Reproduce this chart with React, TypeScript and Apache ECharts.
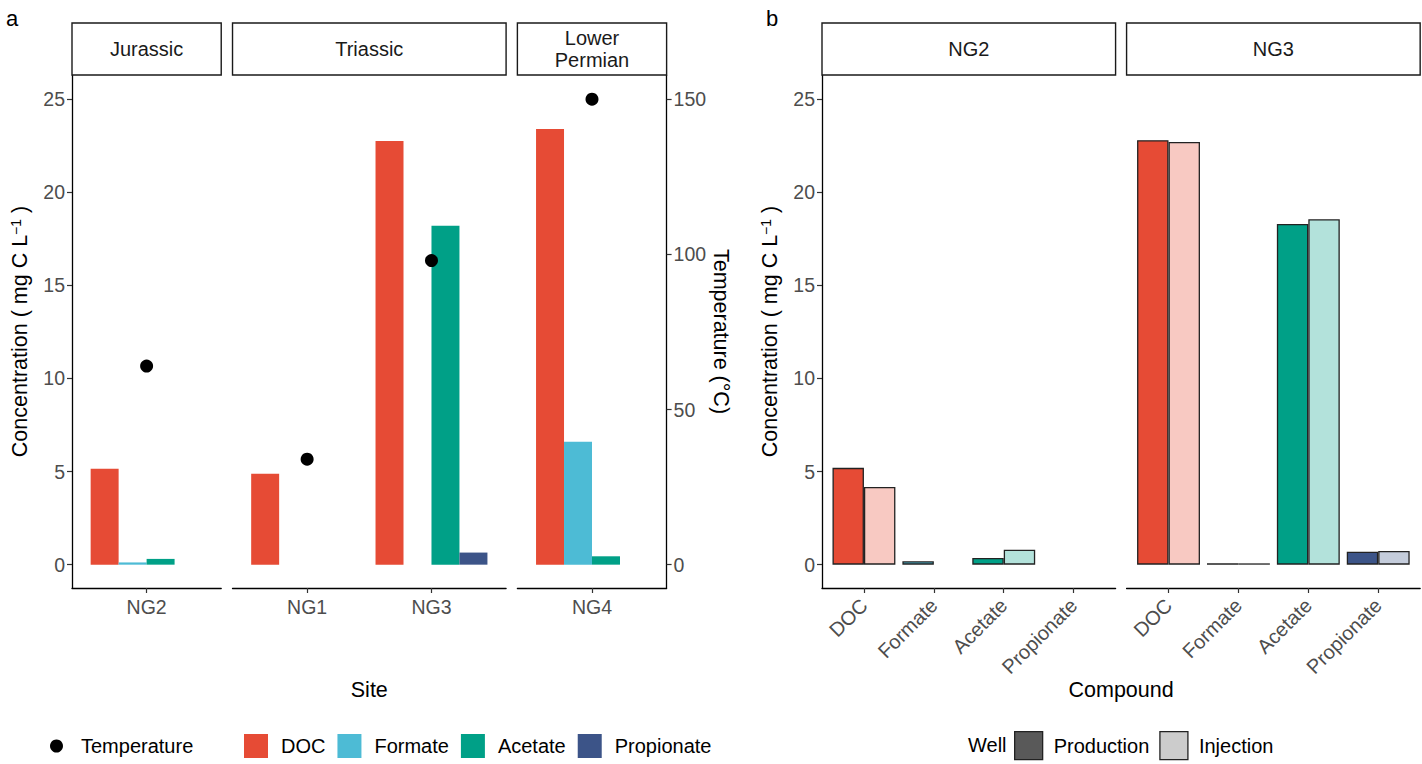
import React, { useEffect, useRef } from "react";
import * as echarts from "echarts";

// ---------------- data ----------------
const periods = ["Jurassic", "Triassic", "Lower\nPermian"];
const periodSites = [["NG2"], ["NG1", "NG3"], ["NG4"]];
const compounds = ["DOC", "Formate", "Acetate", "Propionate"];
const compoundColors = ["#E64B35", "#4DBBD5", "#00A087", "#3C5488"];
const injectionColors = ["#F8C9C2", "#CAEBF2", "#B3E2DB", "#C4CCDB"];

const sites = ["NG2", "NG1", "NG3", "NG4"];
const docBySite = [5.15, 4.88, 22.75, 23.4];
const formateBySite = [0.12, null, null, 6.6];
const acetateBySite = [0.31, null, 18.2, 0.45];
const propionateBySite = [null, null, 0.65, null];
const temperatureBySite = [64, 34, 98, 150];

const wells = ["NG2", "NG3"];
const productionNG2 = [5.2, 0.18, 0.36, null];
const injectionNG2 = [4.17, null, 0.8, null];
const productionNG3 = [22.8, 0.07, 18.3, 0.69];
const injectionNG3 = [22.7, 0.07, 18.55, 0.74];

const concTicks = [0, 5, 10, 15, 20, 25];
const tempTicks = [0, 50, 100, 150];

// ---------------- layout ----------------
const FONT = "'Liberation Sans', Arial, Helvetica, sans-serif";
const TOP = 75;
const H = 513;
const Y_MIN = -1.253;
const Y_MAX = 26.3;
const T_FACTOR = 6;
const STRIP_TOP = 23;
const TICK_FS = 19.5;
const TEXT_FS = 20;
const TITLE_FS = 21.5;

function facetLayout(start: number, unit: number, gap: number, counts: number[]) {
  let x = start;
  return counts.map((n) => {
    const w = (n + 0.2) * unit;
    const f = { x, w, dataX: x + 0.1 * unit, dataW: n * unit };
    x += w + gap;
    return f;
  });
}

function buildOption() {
  const grids: any[] = [];
  const xAxes: any[] = [];
  const yAxes: any[] = [];
  const series: any[] = [];
  const graphics: any[] = [];

  const tickLabel = { color: "#4D4D4D", fontSize: TICK_FS, fontFamily: FONT };
  const tickLine = { color: "#333", width: 1.2 };
  const axisLine = { show: true, onZero: false, lineStyle: { color: "#000", width: 1.3 } };

  const concAxisName = "{t|Concentration ( mg C L}{s|−1}{t| )}";
  const nameStyle = {
    fontSize: TITLE_FS,
    color: "#000",
    fontFamily: FONT,
    rich: {
      t: { fontSize: TITLE_FS, color: "#000", fontFamily: FONT },
      s: { fontSize: 14, color: "#000", fontFamily: FONT, verticalAlign: "top" },
    },
  };

  const addStrip = (f: any, label: string) => {
    graphics.push({
      type: "rect",
      shape: { x: f.x, y: STRIP_TOP, width: f.w, height: TOP - STRIP_TOP },
      style: { fill: "#fff", stroke: "#1a1a1a", lineWidth: 1.4 },
      z: 10,
    });
    graphics.push({
      type: "text",
      x: f.x + f.w / 2,
      y: (STRIP_TOP + TOP) / 2,
      style: {
        text: label,
        fontSize: TEXT_FS,
        fontFamily: FONT,
        fill: "#1a1a1a",
        align: "center",
        verticalAlign: "middle",
        lineHeight: 22,
      },
      z: 11,
    });
  };

  const addFrame = (f: any, yAxis: any) => {
    const gi = grids.length;
    grids.push({ left: f.x, top: TOP, width: f.w, height: H });
    xAxes.push({
      gridIndex: gi,
      type: "value",
      min: 0,
      max: 1,
      axisLine,
      axisTick: { show: false },
      axisLabel: { show: false },
      splitLine: { show: false },
    });
    yAxes.push({ gridIndex: gi, ...yAxis });
  };

  const hiddenY = (gi: number, min: number, max: number) => ({
    gridIndex: gi,
    type: "value",
    min,
    max,
    show: false,
    splitLine: { show: false },
  });

  const concFrameAxis = {
    type: "value",
    min: Y_MIN,
    max: Y_MAX,
    position: "left",
    axisLine,
    axisTick: { show: true, length: 5, lineStyle: tickLine, customValues: concTicks },
    axisLabel: { ...tickLabel, margin: 7, customValues: concTicks },
    splitLine: { show: false },
    name: concAxisName,
    nameLocation: "middle",
    nameGap: 41,
    nameTextStyle: nameStyle,
  };

  // ---------- panel a ----------
  const fa = facetLayout(72, 124.35, 11.3, periodSites.map((s) => s.length));
  const valuesBySite = [docBySite, formateBySite, acetateBySite, propionateBySite];
  fa.forEach((f, i) => {
    addStrip(f, periods[i]);
    let frameY: any = { type: "value", min: Y_MIN, max: Y_MAX, show: false, splitLine: { show: false } };
    if (i === 0) {
      frameY = concFrameAxis;
    } else if (i === fa.length - 1) {
      frameY = {
        type: "value",
        min: Y_MIN * T_FACTOR,
        max: Y_MAX * T_FACTOR,
        position: "right",
        axisLine,
        axisTick: { show: true, length: 5, lineStyle: tickLine, customValues: tempTicks },
        axisLabel: { ...tickLabel, margin: 7, customValues: tempTicks },
        splitLine: { show: false },
        name: "Temperature (°C)",
        nameLocation: "middle",
        nameRotate: -90,
        nameGap: 35,
        nameTextStyle: { fontSize: TITLE_FS, color: "#000", fontFamily: FONT },
      };
    }
    addFrame(f, frameY);

    const gi = grids.length;
    grids.push({ left: f.dataX, top: TOP, width: f.dataW, height: H });
    const xi = xAxes.length;
    xAxes.push({
      gridIndex: gi,
      type: "category",
      data: periodSites[i],
      axisLine: { show: false, onZero: false },
      axisTick: { show: true, alignWithLabel: true, length: 5, lineStyle: tickLine },
      axisLabel: { ...tickLabel, margin: 9 },
      splitLine: { show: false },
    });
    const yi = yAxes.length;
    yAxes.push(hiddenY(gi, Y_MIN, Y_MAX));
    yAxes.push(hiddenY(gi, Y_MIN * T_FACTOR, Y_MAX * T_FACTOR));

    compounds.forEach((c, ci) => {
      series.push({
        name: c,
        type: "bar",
        xAxisIndex: xi,
        yAxisIndex: yi,
        barWidth: "22.5%",
        barGap: "0%",
        itemStyle: { color: compoundColors[ci] },
        data: periodSites[i].map((s) => valuesBySite[ci][sites.indexOf(s)]),
      });
    });
    series.push({
      name: "Temperature",
      type: "scatter",
      xAxisIndex: xi,
      yAxisIndex: yi + 1,
      symbolSize: 13,
      itemStyle: { color: "#000", opacity: 1 },
      z: 5,
      data: periodSites[i].map((s) => temperatureBySite[sites.indexOf(s)]),
    });
  });

  // ---------- panel b ----------
  const fb = facetLayout(822, 69.9, 11, [4, 4]);
  const prod = [productionNG2, productionNG3];
  const inj = [injectionNG2, injectionNG3];
  fb.forEach((f, i) => {
    addStrip(f, wells[i]);
    let frameY: any = { type: "value", min: Y_MIN, max: Y_MAX, show: false, splitLine: { show: false } };
    if (i === 0) frameY = concFrameAxis;
    addFrame(f, frameY);

    const gi = grids.length;
    grids.push({ left: f.dataX, top: TOP, width: f.dataW, height: H });
    const xi = xAxes.length;
    xAxes.push({
      gridIndex: gi,
      type: "category",
      data: compounds,
      axisLine: { show: false, onZero: false },
      axisTick: { show: true, alignWithLabel: true, length: 5, lineStyle: tickLine },
      axisLabel: { ...tickLabel, fontSize: 20, margin: 14, rotate: 45, align: "right", verticalAlign: "middle" },
      splitLine: { show: false },
    });
    const yi = yAxes.length;
    yAxes.push(hiddenY(gi, Y_MIN, Y_MAX));

    const border = { borderColor: "#222", borderWidth: 1.3 };
    series.push({
      name: "Production",
      type: "bar",
      xAxisIndex: xi,
      yAxisIndex: yi,
      barWidth: "45%",
      barGap: "0%",
      itemStyle: { color: "#595959", ...border },
      data: prod[i].map((v, ci) => (v == null ? null : { value: v, itemStyle: { color: compoundColors[ci] } })),
    });
    series.push({
      name: "Injection",
      type: "bar",
      xAxisIndex: xi,
      yAxisIndex: yi,
      barWidth: "45%",
      barGap: "0%",
      itemStyle: { color: "#CCCCCC", ...border },
      data: inj[i].map((v, ci) => (v == null ? null : { value: v, itemStyle: { color: injectionColors[ci] } })),
    });
  });

  // ---------- titles / labels ----------
  const txt = (text: string, x: number, y: number, size: number, align = "center") => ({
    type: "text",
    x,
    y,
    style: { text, fontSize: size, fontFamily: FONT, fill: "#000", align, verticalAlign: "middle" },
    z: 11,
  });
  graphics.push(txt("a", 6, 18, 22, "left"));
  graphics.push(txt("b", 766, 18, 22, "left"));
  graphics.push(txt("Site", (fa[0].x + fa[2].x + fa[2].w) / 2, 690, TITLE_FS));
  graphics.push(txt("Compound", (fb[0].x + fb[1].x + fb[1].w) / 2, 690, TITLE_FS));
  graphics.push(txt("Well", 968, 745, TEXT_FS, "left"));

  const legendText = (pad: number) => ({
    fontSize: TEXT_FS,
    color: "#000",
    fontFamily: FONT,
    padding: [0, 0, 0, pad],
  });

  return {
    animation: false,
    backgroundColor: "#fff",
    grid: grids,
    xAxis: xAxes,
    yAxis: yAxes,
    series,
    graphic: graphics,
    legend: [
      {
        data: [{ name: "Temperature", icon: "circle" }],
        left: 45,
        top: 731,
        itemWidth: 13,
        itemHeight: 13,
        selectedMode: false,
        itemStyle: { color: "#000", opacity: 1 },
        textStyle: legendText(13),
      },
      {
        data: compounds.map((c) => ({ name: c, icon: "rect" })),
        left: 239,
        top: 729,
        itemWidth: 24,
        itemHeight: 24,
        itemGap: 12,
        selectedMode: false,
        textStyle: legendText(8),
      },
      {
        data: [
          { name: "Production", icon: "rect" },
          { name: "Injection", icon: "rect" },
        ],
        left: 1009,
        top: 726,
        itemWidth: 28,
        itemHeight: 28,
        itemGap: 10,
        selectedMode: false,
        itemStyle: { borderColor: "#222", borderWidth: 1.3 },
        textStyle: legendText(6),
      },
    ],
  };
}

export default function App() {
  const ref = useRef<HTMLDivElement>(null);
  useEffect(() => {
    if (!ref.current) return;
    const chart = echarts.init(ref.current, undefined, { renderer: "svg" });
    chart.setOption(buildOption() as any);
    return () => chart.dispose();
  }, []);
  return (
    <div
      ref={ref}
      style={{ position: "fixed", left: 0, top: 0, width: 1422, height: 764, background: "#fff" }}
    />
  );
}
